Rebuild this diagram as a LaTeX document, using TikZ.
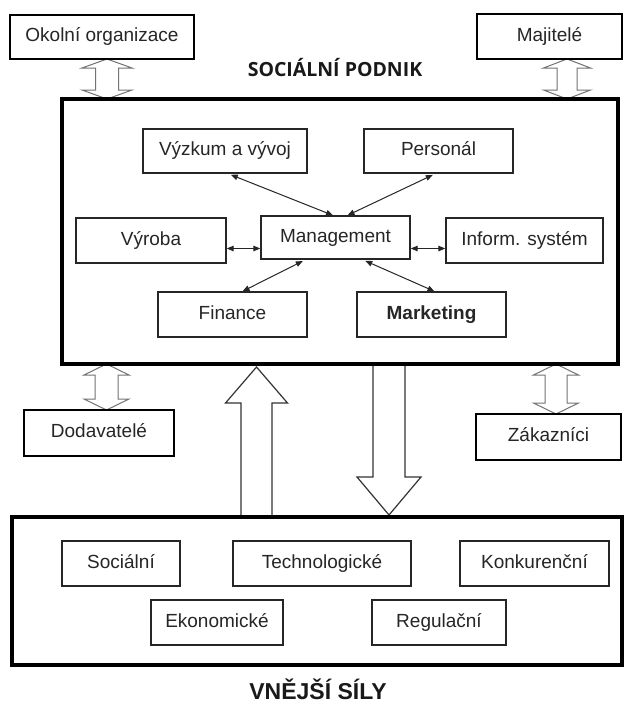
\documentclass[tikz,border=0pt]{standalone}
\usepackage{fontspec}
\usepackage{graphicx}
\setmainfont{Liberation Sans}
\newfontfamily\titlefont{Open Sans}
\usetikzlibrary{arrows.meta,calc}
\tikzset{
  txt/.style={text=black!85, font=\fontsize{19}{22}\selectfont, text height=13.7pt, text depth=4pt},
  ibox/.style={txt, draw=black!85, line width=1.3pt, inner sep=0pt, fill=white},
  obox/.style={txt, draw=black, line width=2.4pt, inner sep=0pt, fill=white},
  bigbox/.style={draw=black, line width=4pt, inner sep=0pt},
  conn/.style={draw=black!85, line width=1pt,
     {Triangle[length=7pt,width=5.5pt]}-{Triangle[length=7pt,width=5.5pt]}},
  hollowdbl/.style={draw=black!55, line width=1pt, fill=white, line join=miter},
  hollowbig/.style={draw=black!80, line width=1.2pt, fill=white, line join=miter}
}
% vertical double arrow: #1 x, #2 top y, #3 bottom y, #4 shaft half, #5 head half, #6 head length
\newcommand\vdarrow[6]{%
  \path[hollowdbl] (#1,#2) -- ({#1+#5},{#2+#6}) -- ({#1+#4},{#2+#6}) -- ({#1+#4},{#3-#6})
    -- ({#1+#5},{#3-#6}) -- (#1,#3) -- ({#1-#5},{#3-#6}) -- ({#1-#4},{#3-#6})
    -- ({#1-#4},{#2+#6}) -- ({#1-#5},{#2+#6}) -- cycle;}
% up arrow: #1 x, #2 tip y, #3 bottom y, #4 shaft half, #5 head half, #6 head length
\newcommand\uparrowshape[6]{%
  \path[hollowbig] (#1,#2) -- ({#1+#5},{#2+#6}) -- ({#1+#4},{#2+#6}) -- ({#1+#4},#3)
    -- ({#1-#4},#3) -- ({#1-#4},{#2+#6}) -- ({#1-#5},{#2+#6}) -- cycle;}
% down arrow: #1 x, #2 top y, #3 tip y, #4 shaft half, #5 head half, #6 head length
\newcommand\downarrowshape[6]{%
  \path[hollowbig] (#1,#3) -- ({#1+#5},{#3-#6}) -- ({#1+#4},{#3-#6}) -- ({#1+#4},#2)
    -- ({#1-#4},#2) -- ({#1-#4},{#3-#6}) -- ({#1-#5},{#3-#6}) -- cycle;}
\begin{document}
\begin{tikzpicture}[x=1pt,y=-1pt]
\useasboundingbox[fill=white] (0,0) rectangle (624,704);

% arrows between blocks (drawn first, boxes on top)
\vdarrow{107}{59}{99}{11.5}{25}{9}
\vdarrow{567}{59}{99}{10}{23.5}{9}
\vdarrow{106.5}{364}{410}{11.5}{22.5}{11}
\vdarrow{556}{364}{414}{11}{22.5}{11}
\uparrowshape{256.5}{367}{517}{15.5}{31}{36}
\downarrowshape{389}{364}{515}{16}{32}{38}

% top outer boxes
\node[obox, minimum width=184pt, minimum height=44pt] (okolni) at (102,37) {Okolní organizace};
\node[obox, minimum width=145pt, minimum height=45pt] (majitele) at (549.5,36.5) {Majitelé};
\node[font=\titlefont\bfseries\fontsize{19.5}{22}\selectfont, text=black!90, inner sep=0pt] (sp) at (335,68) {SOCIÁLNÍ PODNIK};

% main box
\node[bigbox, minimum width=556pt, minimum height=265pt] (main) at (340,231.5) {};

\node[ibox, minimum width=164pt, minimum height=44pt] (vyzkum) at (225,151) {Výzkum a vývoj};
\node[ibox, minimum width=149pt, minimum height=44pt] (personal) at (438.5,151) {Personál};
\node[ibox, minimum width=150pt, minimum height=45pt] (vyroba) at (151,240.5) {Výroba};
\node[ibox, minimum width=149pt, minimum height=43pt] (mgmt) at (335.5,237.5) {Management};
\node[ibox, minimum width=157pt, minimum height=45pt] (inform) at (524.5,240.5) {Inform. systém};
\node[ibox, minimum width=149pt, minimum height=45pt] (finance) at (232.5,314.5) {Finance};
\node[ibox, minimum width=149pt, minimum height=45pt, font=\bfseries\fontsize{19}{22}\selectfont] (marketing) at (431.5,314.5) {Marketing};

\draw[conn, shorten <=3pt] ([xshift=3pt]vyzkum.south) -- ([xshift=-2.5pt]mgmt.north);
\draw[conn, shorten <=3pt] ([xshift=-3pt]personal.south) -- ([xshift=12pt]mgmt.north);
\draw[conn] ([yshift=-8pt]vyroba.east) -- ([yshift=-8pt]vyroba.east -| mgmt.west);
\draw[conn] ([yshift=-8pt]inform.west -| mgmt.east) -- ([yshift=-8pt]inform.west);
\draw[conn, shorten >=3pt] ([xshift=10pt]finance.north) -- ([xshift=-30pt]mgmt.south);
\draw[conn, shorten >=3pt] ([xshift=3pt]marketing.north) -- ([xshift=27pt]mgmt.south);

% side boxes
\node[obox, minimum width=150pt, minimum height=46pt] (dodav) at (99,433) {Dodavatelé};
\node[obox, minimum width=145pt, minimum height=46pt] (zakaz) at (548.5,437) {Zákazníci};

% bottom box
\node[bigbox, minimum width=610pt, minimum height=148pt, fill=white] (ext) at (317,591) {};
\node[ibox, minimum width=118pt, minimum height=45pt] (soc) at (121,563.5) {Sociální};
\node[ibox, minimum width=178pt, minimum height=45pt] (tech) at (322,563.5) {Technologické};
\node[ibox, minimum width=149pt, minimum height=45pt] (konk) at (534.5,563.5) {Konkurenční};
\node[ibox, minimum width=132pt, minimum height=45pt] (ekon) at (217,622.5) {Ekonomické};
\node[ibox, minimum width=134pt, minimum height=45pt] (regul) at (439,622.5) {Regulační};

\node[font=\bfseries\fontsize{23}{26}\selectfont, text=black!90, inner sep=0pt] (vs) at (318,689) {VNĚJŠÍ SÍLY};
\end{tikzpicture}
\end{document}
